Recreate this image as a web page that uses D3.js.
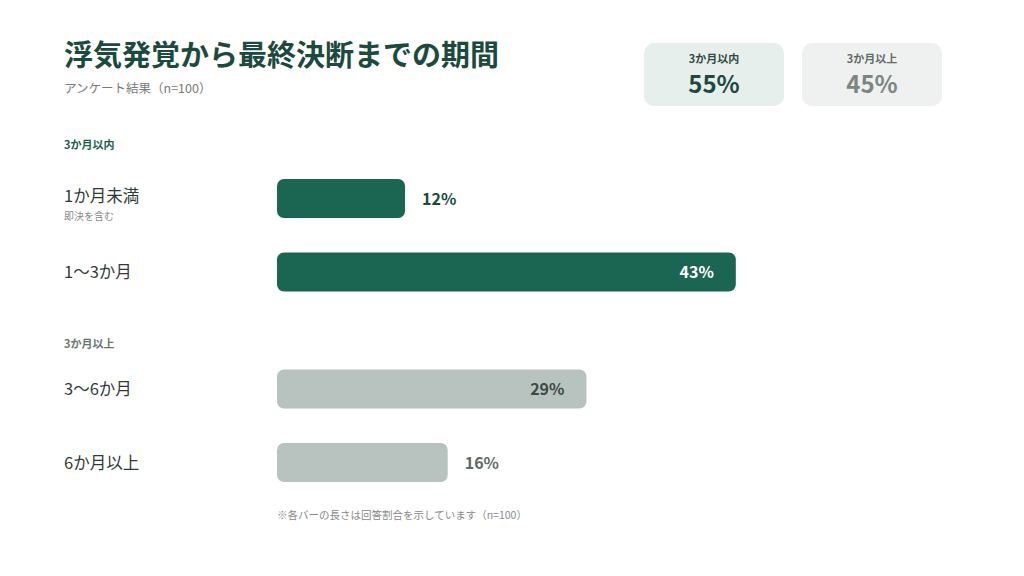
<!DOCTYPE html>
<html>
<head>
<meta charset="utf-8">
<script src="https://cdn.jsdelivr.net/npm/d3@7"></script>
<style>
  html, body { margin: 0; padding: 0; background: #fff; }
  svg { display: block; font-family: "Noto Sans CJK JP", "Noto Sans", sans-serif; }
</style>
</head>
<body>
<div id="chart"></div>
<script>
// data
var categories = ["1か月未満", "1〜3か月", "3〜6か月", "6か月以上"];
var subLabels = ["即決を含む", "", "", ""];
var values = [12, 43, 29, 16];
var groupOf = [0, 0, 1, 1];
var groupNames = ["3か月以内", "3か月以上"];
var groupTotals = [55, 45];

var width = 1024, height = 576;
var barLeft = 277;

var svg = d3.select("#chart").append("svg")
   .attr("width", width)
   .attr("height", height);

// scales
var x = d3.scaleLinear().domain([0, 100]).range([barLeft, barLeft + 1067]);
var y = d3.scalePoint().domain(categories).range([198.5, 198.5 + 3 * 73.5]);
var groupGap = 43.5;
function rowY(d, i) { return y(d) + groupOf[i] * groupGap; }
var barH = 39;

var colors = ["#1b6553", "#b8c2be"];

// title
svg.append("text")
   .attr("x", 64).attr("y", 66)
   .style("font-size", "29px").style("font-weight", 700)
   .attr("fill", "#1d4a3e")
   .text("浮気発覚から最終決断までの期間");

svg.append("text")
   .attr("x", 64).attr("y", 93)
   .style("font-size", "12.5px")
   .attr("fill", "#7a7a7a")
   .text("アンケート結果（n=100）");

// summary cards
var cardFill = ["#e7efec", "#eff1f0"];
var cardTitle = ["#2f4a41", "#5f6b66"];
var cardValue = ["#1d4a3e", "#7b8681"];
var cards = svg.selectAll(".card")
   .data(groupNames).enter()
   .append("g").attr("class", "card")
   .attr("transform", function(d, i) { return "translate(" + (644 + i * 158) + ",43)"; });

cards.append("rect")
   .attr("width", 140).attr("height", 63)
   .attr("rx", 10)
   .attr("fill", function(d, i) { return cardFill[i]; });

cards.append("text")
   .attr("x", 70).attr("y", 20)
   .attr("text-anchor", "middle")
   .style("font-size", "11px").style("font-weight", 700)
   .attr("fill", function(d, i) { return cardTitle[i]; })
   .text(function(d) { return d; });

cards.append("text")
   .attr("x", 70).attr("y", 50)
   .attr("text-anchor", "middle")
   .style("font-size", "24px").style("font-weight", 700)
   .attr("fill", function(d, i) { return cardValue[i]; })
   .text(function(d, i) { return groupTotals[i] + "%"; });

// group headers
var firstIdx = groupNames.map(function(g, gi) { return groupOf.indexOf(gi); });
svg.selectAll(".grouphead")
   .data(groupNames).enter()
   .append("text").attr("class", "grouphead")
   .attr("x", 64)
   .attr("y", function(d, gi) {
      var i = firstIdx[gi];
      return rowY(categories[i], i) - (gi == 0 ? 53.5 : 45.5) + 4;
   })
   .style("font-size", "11px").style("font-weight", 700)
   .attr("fill", function(d, gi) { return gi == 0 ? "#1e5e4c" : "#6b7570"; })
   .text(function(d) { return d; });

// rows
var rows = svg.selectAll(".row")
   .data(categories).enter()
   .append("g").attr("class", "row")
   .attr("transform", function(d, i) { return "translate(0," + rowY(d, i) + ")"; });

rows.append("text")
   .attr("x", 64)
   .attr("y", function(d, i) { return subLabels[i] ? 3 : 6; })
   .style("font-size", "16.5px")
   .attr("fill", "#2f3a36")
   .text(function(d) { return d; });

rows.append("text")
   .attr("x", 64).attr("y", 21)
   .style("font-size", "10px")
   .attr("fill", "#8a8a8a")
   .text(function(d, i) { return subLabels[i]; });

rows.append("rect")
   .attr("x", x(0))
   .attr("y", -barH / 2)
   .attr("width", function(d, i) { return x(values[i]) - x(0); })
   .attr("height", barH)
   .attr("rx", 7)
   .attr("fill", function(d, i) { return colors[groupOf[i]]; });

// value labels: inside when the bar is long enough
rows.append("text")
   .attr("x", function(d, i) { return values[i] > 20 ? x(values[i]) - 22 : x(values[i]) + 17; })
   .attr("y", 6)
   .attr("text-anchor", function(d, i) { return values[i] > 20 ? "end" : "start"; })
   .style("font-size", "16px").style("font-weight", 700)
   .attr("fill", function(d, i) {
      if (values[i] > 20) return groupOf[i] == 0 ? "#ffffff" : "#3d4a45";
      return groupOf[i] == 0 ? "#1d4a3e" : "#5f6b66";
   })
   .text(function(d, i) { return values[i] + "%"; });

// footnote
svg.append("text")
   .attr("x", barLeft).attr("y", 519)
   .style("font-size", "10.5px")
   .attr("fill", "#8a8a8a")
   .text("※各バーの長さは回答割合を示しています（n=100）");
</script>
</body>
</html>
